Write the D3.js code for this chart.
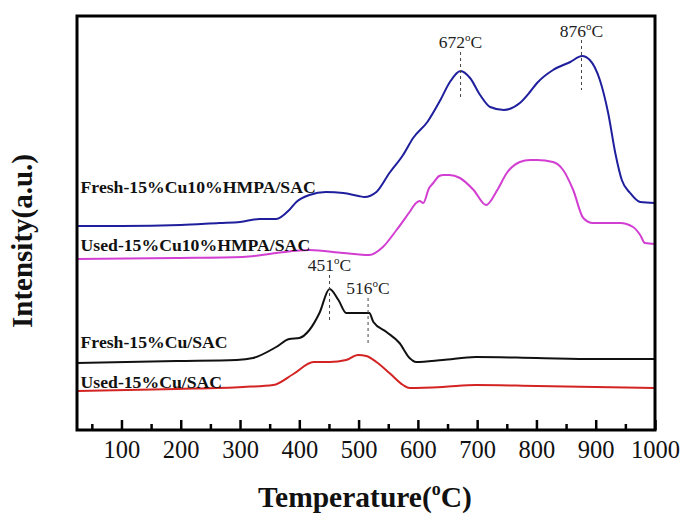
<!DOCTYPE html>
<html><head><meta charset="utf-8">
<script src="https://cdn.jsdelivr.net/npm/d3@7"></script>
<style>
html,body{margin:0;padding:0;background:#fff;}
svg{display:block;}
text{font-family:"Liberation Serif","Times New Roman",serif;}
</style></head>
<body><svg id="c" width="683" height="516"></svg>
<script>
// ---- data (temperature in °C, intensity in arbitrary units) ----
const seriesNames = ["Fresh-15%Cu10%HMPA/SAC","Used-15%Cu10%HMPA/SAC","Fresh-15%Cu/SAC","Used-15%Cu/SAC"];
const seriesColors = ["#1f1f9e","#d23ed2","#111111","#d42323"];

const freshHMPA = [[25,204],[100,204],[200,205],[265,207],[300,208],[333,211],[345,211],[361,211],[383,220],[395,228],[417,235],[445,238],[474,237],[500,234],[510,233],[530,238],[552,257],[575,275],[592,292],[616,308],[638,330],[654,348],[672,359],[688,352],[705,335],[722,323],[745,320],[772,327],[789,338],[801,347],[828,360],[857,368],[877,374],[890,370],[907,350],[921,317],[933,277],[944,250],[958,237],[975,228],[1000,227]];
const usedHMPA = [[25,171],[193,172],[305,173],[361,177],[417,180],[474,177],[518,175],[541,183],[564,200],[586,218],[597,227],[603,229],[609,227],[619,242],[626,247],[636,254],[643,255],[653,255],[671,252],[694,240],[715,225],[734,240],[750,257],[772,268],[789,270],[801,270],[828,268],[845,260],[862,240],[879,212],[895,207],[941,207],[963,203],[975,195],[983,187],[1000,186]];
const freshCu = [[25,67],[193,69],[294,70],[322,72],[361,83],[383,91],[400,92],[417,100],[434,117],[451,141],[466,130],[479,117],[496,117],[518,117],[525,108],[547,98],[569,87],[586,72],[597,68],[642,70],[698,73],[800,72],[900,71],[1000,71]];
const usedCu = [[25,39],[193,41],[305,43],[356,45],[390,56],[424,68],[451,68],[479,70],[499,75],[513,74],[530,68],[552,57],[575,45],[586,42],[642,43],[698,45],[800,44],[900,43],[1000,42]];
const allSeries = [freshHMPA, usedHMPA, freshCu, usedCu];

const labelAnchors = [[31,237],[31,179],[31,82],[31,42]]; // [T, intensity] baseline positions for series labels

const xTicksMajor = [100,200,300,400,500,600,700,800,900,1000];
const xTicksMinor = [50,150,250,350,450,550,650,750,850,950];

// peak annotations: temperature, label text, dashed top, dashed bottom, label baseline
const peakTemps = [672, 876, 451, 516];
const peakLabels = ["672","876","451","516"];
const peakDashTop = [378, 390, 155, 132];
const peakDashBottom = [333, 340, 110, 87];
const peakLabelY = [382, 393, 159, 136];

// ---- layout ----
const svg = d3.select("#c");
const L=77, R=655, T=16, B=430;
const x = d3.scaleLinear().domain([25,1000]).range([L,R]);
const y = d3.scaleLinear().domain([0,414]).range([B,T]);

const line = d3.line().x(d=>x(d[0])).y(d=>y(d[1])).curve(d3.curveMonotoneX);

allSeries.forEach((s,i)=>{
  svg.append("path").datum(s).attr("d",line).attr("fill","none")
    .attr("stroke",seriesColors[i]).attr("stroke-width",2).attr("stroke-linejoin","round");
});

// series labels
seriesNames.forEach((n,i)=>{
  svg.append("text").attr("x",x(labelAnchors[i][0])).attr("y",y(labelAnchors[i][1]))
    .attr("font-size",17.7).attr("font-weight","bold").attr("fill","#111").text(n);
});

// peak annotations
peakTemps.forEach((t,i)=>{
  svg.append("line").attr("x1",x(t)).attr("x2",x(t))
    .attr("y1",y(peakDashTop[i])).attr("y2",y(peakDashBottom[i]))
    .attr("stroke","#444").attr("stroke-width",1).attr("stroke-dasharray","3,3");
  const tx = svg.append("text").attr("x",x(t)).attr("y",y(peakLabelY[i]))
    .attr("text-anchor","middle").attr("font-size",17.5).attr("fill","#222");
  tx.append("tspan").text(peakLabels[i]);
  tx.append("tspan").attr("font-size",11).attr("dy",-7).text("o");
  tx.append("tspan").attr("dy",7).text("C");
});

// axis
const ax = d3.axisBottom(x).tickValues(xTicksMajor).tickSize(-10).tickPadding(11).tickFormat(d3.format("d"));
const g = svg.append("g").attr("transform",`translate(0,${B})`).call(ax);
g.select(".domain").remove();
g.selectAll(".tick line").attr("stroke","#000").attr("stroke-width",2.5);
g.selectAll(".tick text").attr("font-size",24.5).attr("fill","#111")
  .style("font-family","'Liberation Serif',serif");
const axm = d3.axisBottom(x).tickValues(xTicksMinor).tickSize(-6).tickFormat("");
const gm = svg.append("g").attr("transform",`translate(0,${B})`).call(axm);
gm.select(".domain").remove();
gm.selectAll(".tick line").attr("stroke","#000").attr("stroke-width",2.5);

// frame
svg.append("rect").attr("x",L).attr("y",T).attr("width",R-L).attr("height",B-T)
  .attr("fill","none").attr("stroke","#000").attr("stroke-width",3);

// axis titles
const xt = svg.append("text").attr("x",(L+R)/2-1).attr("y",507).attr("text-anchor","middle")
  .attr("font-size",29.5).attr("font-weight","bold").attr("fill","#111");
xt.append("tspan").text("Temperature(");
xt.append("tspan").attr("font-size",18).attr("dy",-12).text("o");
xt.append("tspan").attr("dy",12).text("C)");

svg.append("text").attr("transform",`translate(32,${(T+B)/2+18}) rotate(-90)`)
  .attr("text-anchor","middle").attr("font-size",29).attr("font-weight","bold").attr("fill","#111")
  .text("Intensity(a.u.)");
</script></body></html>
